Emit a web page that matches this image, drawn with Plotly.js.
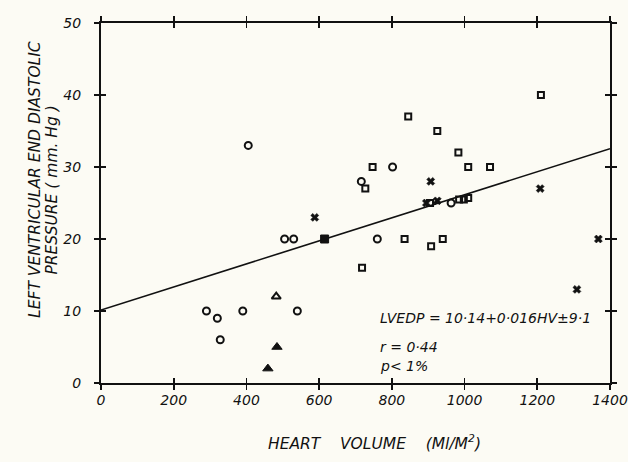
<!DOCTYPE html>
<html>
<head>
<meta charset="utf-8">
<script src="https://cdn.plot.ly/plotly-3.0.1.min.js"></script>
<style>
html,body{margin:0;padding:0;background:#fcfbf4;}
#chart{width:628px;height:462px;}
</style>
</head>
<body>
<div id="chart"></div>
<script>
// Heart volume (ml/m2) vs LVEDP (mm Hg)
const openCircleX = [405, 505, 530, 760, 290, 320, 390, 540, 328, 716, 802, 963];
const openCircleY = [33, 20, 20, 20, 10, 9, 10, 10, 6, 28, 30, 25];

const openSquareX = [727, 747, 845, 925, 983, 1010, 1070, 1210, 835, 908, 940, 718, 905, 985, 998, 1010];
const openSquareY = [27, 30, 37, 35, 32, 30, 30, 40, 20, 19, 20, 16, 25, 25.5, 25.5, 25.7];

const crossX = [588, 907, 1208, 1368, 1309, 895, 925];
const crossY = [23, 28, 27, 20, 13, 25, 25.3];

const filledSquareX = [615];
const filledSquareY = [20];

const openTriangleX = [482];
const openTriangleY = [12];

const filledTriangleX = [484, 459];
const filledTriangleY = [5, 2];

// Regression: LVEDP = 10.14 + 0.016 HV
const lineX = [0, 1400];
const lineY = [10.14, 32.54];

const xTicks = [0, 200, 400, 600, 800, 1000, 1200, 1400];
const yTicks = [0, 10, 20, 30, 40, 50];

const equationText = "LVEDP = 10·14+0·016HV±9·1";
const rText = "r = 0·44";
const pText = "p< 1%";
const xTitleText = "HEART\u00a0\u00a0\u00a0\u00a0VOLUME\u00a0\u00a0\u00a0\u00a0(Ml/M<sup>2</sup>)";
const yTitleLine1 = "LEFT VENTRICULAR END DIASTOLIC";
const yTitleLine2 = "PRESSURE ( mm. Hg )";

const ink = '#111111';
const fnt = {family: 'DejaVu Sans', size: 14, color: ink, style: 'italic'};
const titleFnt = {family: 'DejaVu Sans', size: 15.5, color: ink, style: 'italic'};

function pts(x, y, symbol, size, lw) {
  return {
    type: 'scatter', mode: 'markers', x: x, y: y, showlegend: false, hoverinfo: 'skip',
    marker: {symbol: symbol, size: size, color: ink, line: {color: ink, width: lw}}
  };
}

const traces = [
  {type: 'scatter', mode: 'lines', x: lineX, y: lineY, showlegend: false, hoverinfo: 'skip',
   line: {color: ink, width: 1.6}},
  pts(openCircleX, openCircleY, 'circle-open', 7, 2),
  pts(openSquareX, openSquareY, 'square-open', 6, 2),
  pts(crossX, crossY, 'x', 7, 0.6),
  pts(filledSquareX, filledSquareY, 'square', 8, 1),
  pts(openTriangleX, openTriangleY, 'triangle-up-open', 8, 2),
  pts(filledTriangleX, filledTriangleY, 'triangle-up', 9, 1),
  {type: 'scatter', mode: 'markers', x: [0], y: [0], xaxis: 'x2', yaxis: 'y2', showlegend: false, hoverinfo: 'skip',
   marker: {size: 1, opacity: 0}}
];

const axCommon = {
  showgrid: false, zeroline: false, showline: true, linecolor: ink, linewidth: 2,
  tickcolor: ink, tickwidth: 1.8, ticklen: 5, mirror: 'ticks', tickfont: fnt
};

const layout = {
  width: 628, height: 462,
  margin: {l: 101, r: 18, t: 23, b: 79},
  paper_bgcolor: '#fcfbf4', plot_bgcolor: '#fcfbf4',
  font: fnt,
  xaxis: Object.assign({}, axCommon, {range: [0, 1400], tickmode: 'array', tickvals: xTicks, ticktext: xTicks.map(String), ticks: 'inside', ticklabelstandoff: 3}),
  yaxis: Object.assign({}, axCommon, {range: [0, 50], tickmode: 'array', tickvals: yTicks, ticktext: yTicks.map(String), ticks: 'inside', ticklabelstandoff: 15}),
  xaxis2: Object.assign({}, axCommon, {range: [0, 1400], overlaying: 'x', anchor: 'y2', side: 'bottom', tickmode: 'array', tickvals: xTicks, ticks: 'outside', showticklabels: false}),
  yaxis2: Object.assign({}, axCommon, {range: [0, 50], overlaying: 'y', anchor: 'x2', side: 'left', tickmode: 'array', tickvals: yTicks, ticks: 'outside', showticklabels: false}),
  annotations: [
    {text: equationText, x: 763, y: 9.0, xref: 'x', yref: 'y', xanchor: 'left', yanchor: 'middle', showarrow: false, font: fnt},
    {text: rText, x: 763, y: 5.0, xref: 'x', yref: 'y', xanchor: 'left', yanchor: 'middle', showarrow: false, font: fnt},
    {text: pText, x: 763, y: 2.3, xref: 'x', yref: 'y', xanchor: 'left', yanchor: 'middle', showarrow: false, font: fnt},
    {text: xTitleText, x: 0.538, y: -0.165, xref: 'paper', yref: 'paper', xanchor: 'center', yanchor: 'middle', showarrow: false, font: titleFnt},
    {text: yTitleLine1, x: -0.131, y: 0.565, xref: 'paper', yref: 'paper', xanchor: 'center', yanchor: 'middle', textangle: -90, showarrow: false, font: titleFnt},
    {text: yTitleLine2, x: -0.096, y: 0.535, xref: 'paper', yref: 'paper', xanchor: 'center', yanchor: 'middle', textangle: -90, showarrow: false, font: titleFnt}
  ]
};

Plotly.newPlot('chart', traces, layout, {staticPlot: true, displayModeBar: false});
</script>
</body>
</html>
